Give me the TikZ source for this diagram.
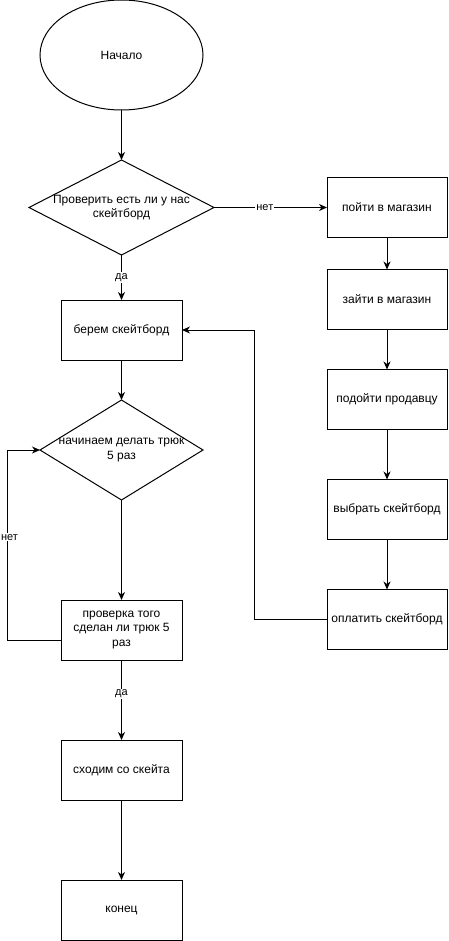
\documentclass[tikz,border=0pt]{standalone}
\usepackage{fontspec}
\setmainfont{Liberation Sans}
\usetikzlibrary{positioning,arrows.meta,shapes.geometric}

\tikzset{
  base/.style={draw, line width=1pt, font=\fontsize{12}{14.5}\selectfont, align=center, inner sep=0pt, outer sep=0pt},
  proc/.style={base, rectangle, minimum width=121pt, minimum height=60pt},
  choice/.style={base, diamond},
  arr/.style={line width=1pt, -{Stealth[length=8pt,width=7pt,inset=2.5pt]}},
  lbl/.style={fill=white, inner sep=1pt, font=\fontsize{11}{13}\selectfont}
}

\begin{document}
\begin{tikzpicture}[x=1pt,y=1pt,node distance=40pt]
	\useasboundingbox (0,0) rectangle (448,-941);

	% left column
	\node (s)  [base, ellipse, minimum width=163pt, minimum height=110pt] at (121.5,-55) {Начало};
	\node (c1) [choice, minimum width=185pt, minimum height=95pt, below=50pt of s,
	            label={[font=\fontsize{12}{14.5}\selectfont, align=center]center:Проверить есть ли у нас\\скейтборд}] {};
	\node (b1) [proc, below=45pt of c1] {берем скейтборд};
	\node (c2) [choice, minimum width=163pt, minimum height=100pt, below=of b1,
	            label={[font=\fontsize{12}{14.5}\selectfont, align=center]center:начинаем делать трюк\\5 раз}] {};
	\node (b2) [proc, below=100pt of c2] {проверка того\\сделан ли трюк 5\\раз};
	\node (b3) [proc, below=80pt of b2] {сходим со скейта};
	\node (b4) [proc, below=80pt of b3] {конец};

	% right column
	\node (r1) [proc, minimum width=120pt, right=113pt of c1] {пойти в магазин};
	\node (r2) [proc, minimum width=120pt, below=32pt of r1] {зайти в магазин};
	\node (r3) [proc, minimum width=120pt, below=of r2] {подойти продавцу};
	\node (r4) [proc, minimum width=120pt, below=50pt of r3] {выбрать скейтборд};
	\node (r5) [proc, minimum width=120pt, below=50pt of r4] {оплатить скейтборд};

	% connectors
	\draw[arr] (s) -- (c1);
	\draw[arr] (c1) -- node[lbl, pos=0.45] {нет} (r1);
	\draw[arr] (c1) -- node[lbl] {да} (b1);
	\draw[arr] (b1) -- (c2);
	\draw[arr] (c2) -- (b2);
	\draw[arr] ([yshift=-10pt]b2.west) -- ++(-54,0) |- node[lbl, pos=0.27, xshift=2.5pt] {нет} (c2.west);
	\draw[arr] (b2) -- node[lbl, pos=0.42] {да} (b3);
	\draw[arr] (b3) -- (b4);
	\draw[arr] (r1) -- (r2);
	\draw[arr] (r2) -- (r3);
	\draw[arr] (r3) -- (r4);
	\draw[arr] (r4) -- (r5);
	\draw[arr] (r5.west) -- ++(-73,0) |- (b1.east);
\end{tikzpicture}
\end{document}
